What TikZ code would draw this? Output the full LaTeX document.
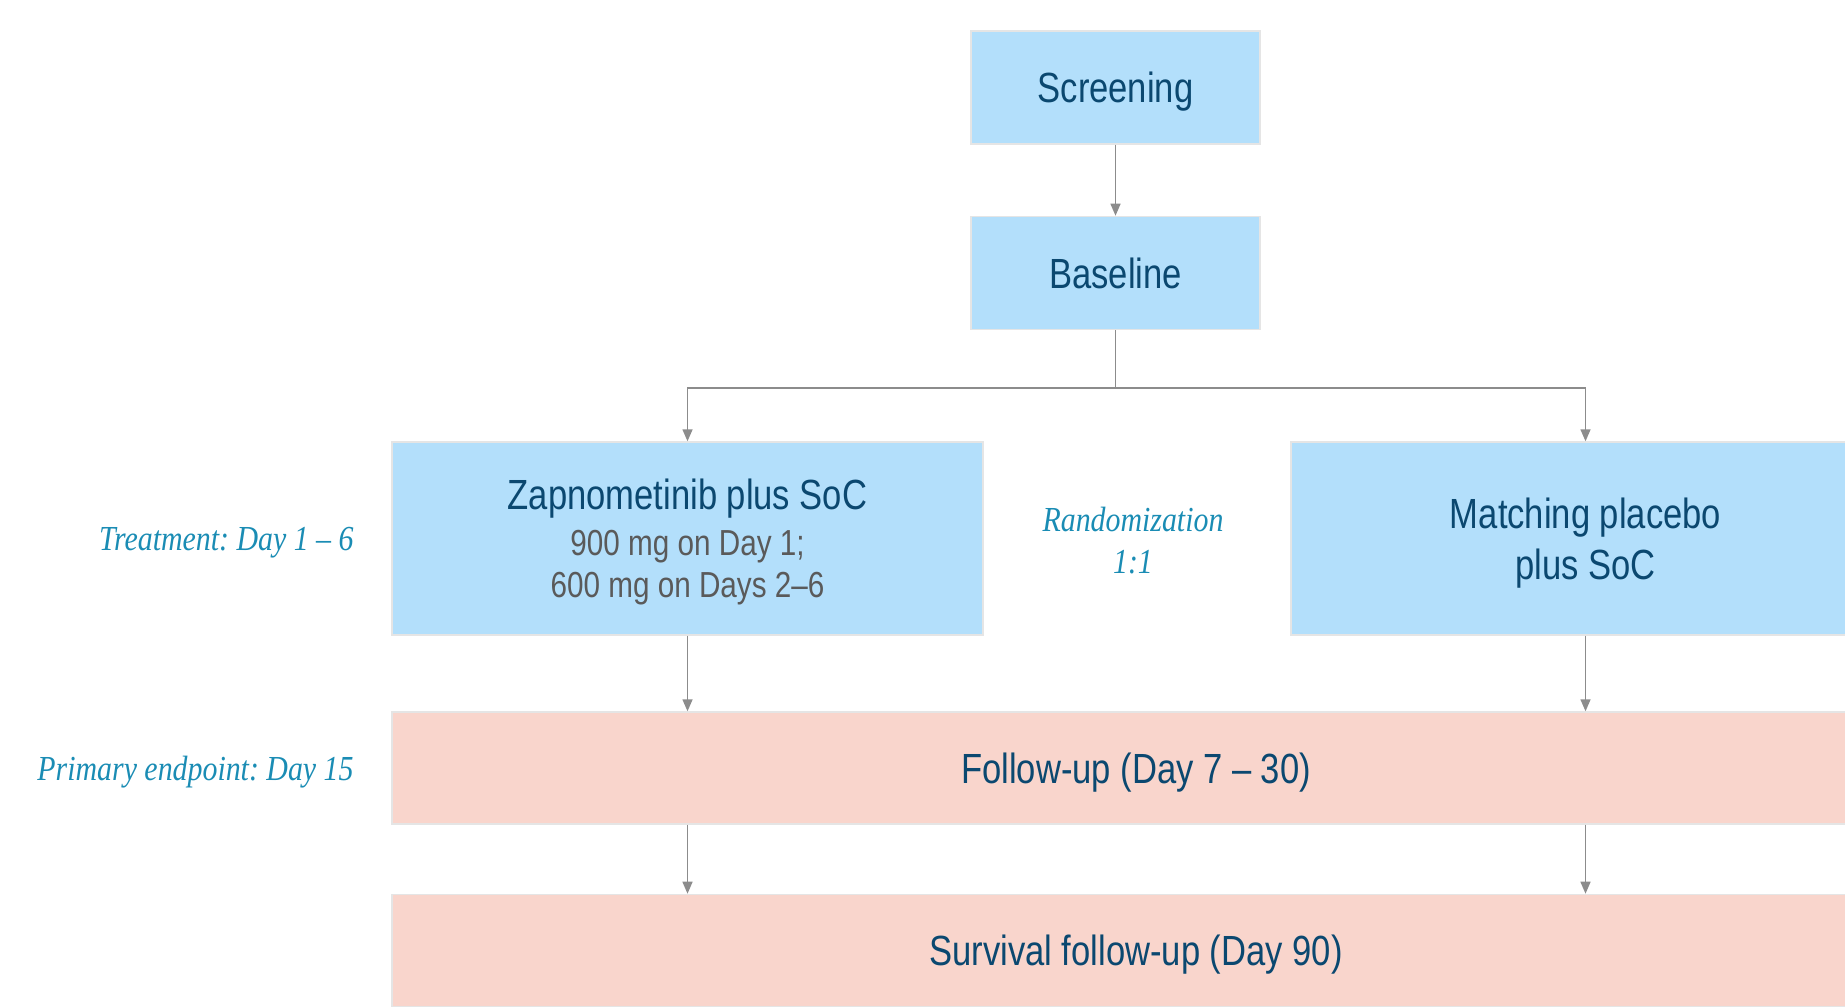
\documentclass[tikz,border=0pt]{standalone}
\usepackage{fontspec}
\setmainfont{Liberation Sans}[FakeStretch=0.82]
\newfontfamily\notefont{Liberation Serif}[FakeStretch=0.85]
\usetikzlibrary{positioning,arrows.meta}
\definecolor{skyblue}{HTML}{B3DFFB}
\definecolor{salmon}{HTML}{F9D5CC}
\definecolor{navy}{HTML}{0B4870}
\definecolor{dosegray}{HTML}{5A5A5A}
\definecolor{teal}{HTML}{1A8CB4}
\definecolor{linegray}{HTML}{8C8C8C}
\newcommand\dosefont{\fontsize{10.3}{12}\selectfont\color{dosegray}}

\begin{document}
\begin{tikzpicture}[
  phase/.style={fill=skyblue, draw=black!10, line width=0.4pt, inner sep=0pt, text depth=0pt,
                font=\fontsize{12}{14.4}\selectfont, align=center, text=navy},
  follow/.style={phase, fill=salmon},
  note/.style={font=\notefont\itshape\fontsize{10}{12}\selectfont\frenchspacing, text=teal,
               align=center, inner sep=0pt, text depth=0pt},
  arrow/.style={-{Triangle[width=1mm,length=1.2mm]}, line width=0.4pt, color=linegray},
  node distance=0.71cm
]
\useasboundingbox (0,0) rectangle (18.45,-10.07);

\node[phase, minimum width=2.89cm, minimum height=1.13cm] (screen) at (11.155,-0.875) {Screening};
\node[phase, minimum width=2.89cm, minimum height=1.13cm, below=of screen] (base) {Baseline};
\coordinate[below=0.58cm of base] (split);

% Randomized arms
\node[phase, minimum width=5.91cm, minimum height=1.93cm] (drug) at (6.875,-5.385)
  {Zapnometinib plus SoC\\[-1.4pt]{\dosefont 900 mg on Day 1;}\\[-2.4pt]{\dosefont 600 mg on Days 2–6}};
\node[phase, minimum width=5.89cm, minimum height=1.93cm] (placebo) at (15.855,-5.385) {Matching placebo\\plus SoC};
\node[note] (rand) at (11.33,-5.40) {Randomization\\1:1};

% Follow-up
\node[follow, minimum width=14.88cm, minimum height=1.12cm] (fu) at (11.36,-7.68) {Follow-up (Day 7 – 30)};
\node[follow, minimum width=14.88cm, minimum height=1.12cm, below=0.69cm of fu] (surv) {Survival follow-up (Day 90)};

\node[note, left=0.37cm of drug] (treatlbl) {Treatment: Day 1 – 6};
\node[note, left=0.37cm of fu] (endlbl) {Primary endpoint: Day 15};

\draw[arrow] (screen) -- (base);
\draw[linegray, line width=0.4pt] (base) -- (split);
\draw[arrow] (split) -| (drug);
\draw[arrow] (split) -| (placebo);
\draw[arrow] (drug) -- (drug |- fu.north);
\draw[arrow] (placebo) -- (placebo |- fu.north);
\draw[arrow] (fu.south -| drug) -- (surv.north -| drug);
\draw[arrow] (fu.south -| placebo) -- (surv.north -| placebo);

\end{tikzpicture}
\end{document}
